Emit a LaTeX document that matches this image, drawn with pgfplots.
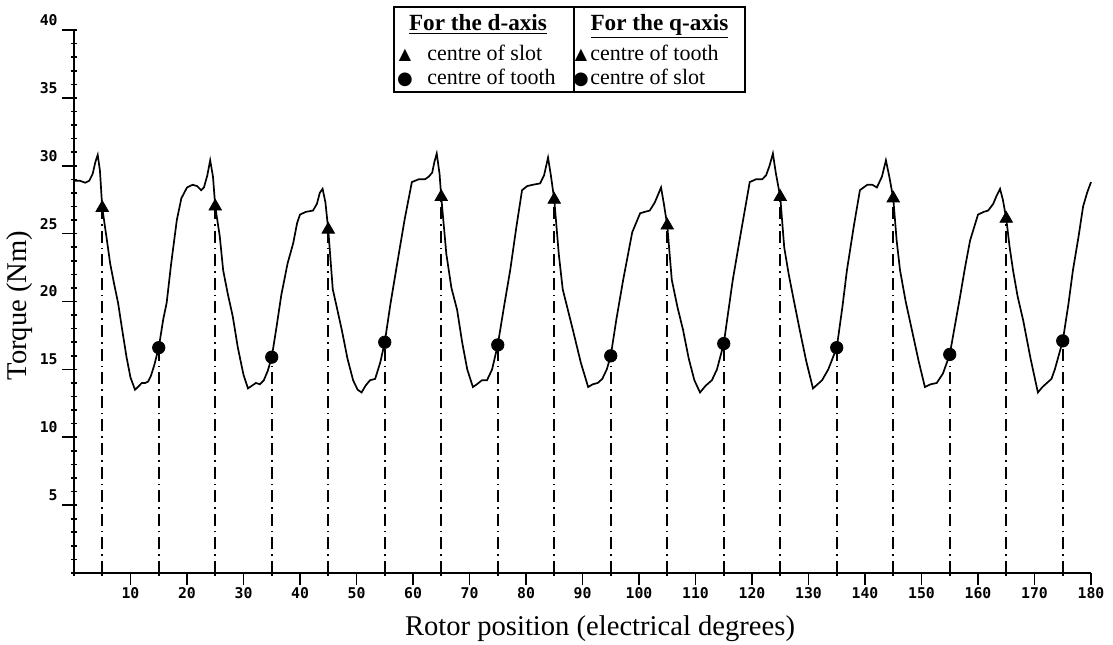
\documentclass[border=0pt]{standalone}
\usepackage{pgfplots}
\pgfplotsset{compat=1.18}
\usepackage{fontspec}
\setmainfont{Liberation Serif}
\newfontfamily\tickfont{DejaVu Sans Mono}
\newfontfamily\symfont{DejaVu Sans}

\pgfplotstableread{
x y
0 28.9
1 28.9
2 28.75
2.7 28.9
3.3 29.4
3.8 30.3
4.2 30.8
4.6 29.6
5 26.9
5.8 24.6
6.4 22.8
7.1 21.3
7.8 19.9
8.5 18.0
9.3 15.9
10 14.4
10.8 13.5
11.3 13.7
12 14.0
12.6 14.0
13.1 14.1
13.6 14.5
14.2 15.3
15 16.6
15.8 18.7
16.4 19.9
17.2 22.8
18.2 26.0
19.0 27.6
20 28.4
21 28.6
21.8 28.5
22.5 28.2
23 28.4
23.6 29.3
24.1 30.4
24.6 29.2
25 27.0
25.8 24.8
26.4 22.3
27.2 20.6
28.1 18.9
29 16.6
30 14.6
30.8 13.6
31.5 13.8
32.2 14.0
32.9 13.9
33.6 14.2
34.3 14.9
35 15.9
35.8 18.0
36.7 20.5
37.8 22.8
38.8 24.3
39.5 25.8
40 26.4
41 26.6
42.3 26.7
43 27.2
43.5 28.0
44 28.3
44.5 27.3
45 25.3
45.8 20.9
46.5 19.6
47.4 17.9
48.4 15.8
49.4 14.2
50.2 13.5
50.9 13.3
51.6 13.8
52.4 14.2
53.3 14.3
54.2 15.5
55 17.0
56 19.8
57.2 22.8
58.5 26.0
59.8 28.8
61 29.0
62.1 29.0
62.8 29.2
63.4 29.5
63.8 30.3
64.2 30.9
64.7 29.4
65 27.7
65.9 23.5
66.8 21.0
67.8 19.4
68.7 17.0
69.6 15.0
70.6 13.7
71.3 13.9
72.2 14.2
73.1 14.2
74 15.0
75 16.8
76.1 19.6
77.2 22.3
78.3 25.5
79.3 28.2
80.2 28.5
81.2 28.6
82.5 28.7
83.2 29.3
83.9 30.6
84.4 29.3
85 27.5
85.8 23.5
86.5 20.9
87.4 19.4
88.3 17.9
89.7 15.5
91 13.7
91.8 13.9
92.7 14.0
93.5 14.3
94.3 15.0
95 16.0
96 18.7
97.2 21.6
98.8 25.1
100.2 26.5
101 26.6
101.9 26.7
102.8 27.3
103.4 27.9
103.9 28.4
104.4 27.2
105 25.6
105.8 21.6
106.8 19.6
107.8 17.9
108.8 15.8
109.8 14.2
110.8 13.3
111.8 13.8
112.9 14.2
113.8 15.0
115 16.9
116.6 21.6
118 25.0
119.6 28.8
120.7 29.0
121.8 29.0
122.5 29.3
123.1 30.0
123.7 30.9
124.2 29.5
125 27.7
125.7 24.0
126.5 22.0
127.3 20.3
128.4 18.0
129.6 15.6
130.8 13.6
131.6 13.9
132.4 14.2
133.5 15.0
135 16.6
136 19.6
136.8 22.3
138 25.5
139.1 28.2
140.4 28.6
141.3 28.6
142.1 28.4
143 29.2
143.7 30.4
144.3 29.2
145 27.6
145.6 24.5
146.2 22.3
147.2 20.0
148.3 17.9
149.5 15.6
150.6 13.7
151.6 13.9
152.7 14.0
153.8 14.7
155 16.1
155.9 18.2
156.8 20.3
157.7 22.5
158.6 24.5
160 26.4
161 26.6
161.8 26.7
162.7 27.2
163.3 27.8
163.9 28.3
164.4 27.5
165 26.1
165.6 24.0
166.2 22.3
167 20.4
168 18.6
169.3 15.8
170.6 13.3
171.4 13.7
172.2 14.0
173 14.3
173.6 15.0
175 17.1
176 19.8
176.8 22.3
177.8 24.8
178.6 27.0
179.3 28.0
180 28.8
}\torque

\pgfplotstableread{
x y
5 26.9
25 27.0
45 25.3
65 27.7
85 27.5
105 25.6
125 27.7
145 27.6
165 26.1
}\tri

\pgfplotstableread{
x y
15 16.6
35 15.9
55 17.0
75 16.8
95 16.0
115 16.9
135 16.6
155 16.1
175 17.1
}\circ

\begin{document}
\begin{tikzpicture}
\begin{axis}[
  scale only axis, width=508.5pt, height=271.5pt,
  xmin=0, xmax=180, ymin=0, ymax=40,
  axis lines*=left,
  axis line style={line width=1pt},
  xtick={10,20,...,180},
  minor xtick={0,5,15,25,35,45,55,65,75,85,95,105,115,125,135,145,155,165,175},
  ytick={5,10,...,40},
  minor ytick={0,1,...,40},
  tick align=outside,
  major tick length=6pt, minor tick length=3pt,
  minor x tick style={yshift=1.5pt},
  minor y tick style={xshift=1.5pt},
  every tick/.style={black, line width=0.8pt},
  /pgf/number format/assume math mode=true,
  tick label style={font=\tickfont\bfseries\fontsize{7.4}{8}\selectfont},
  xticklabel style={inner sep=0pt, anchor=north, yshift=-1pt},
  yticklabel style={inner sep=0pt, anchor=south east, xshift=-2pt, yshift=2pt},
  xlabel={Rotor position (electrical degrees)},
  ylabel={Torque (Nm)},
  label style={font=\fontsize{14.3}{16}\selectfont},
  xlabel style={at={(axis description cs:0.5,0)}, anchor=base, yshift=-31pt, xshift=8.75pt},
  ylabel style={at={(axis description cs:0,0.5)}, anchor=base, yshift=23.5pt, xshift=-2pt},
  clip=false,
]
\addplot[ycomb, black, line width=0.9pt, dash pattern=on 6pt off 2.5pt on 0.8pt off 2.5pt] table[x=x,y=y] {\tri};
\addplot[ycomb, black, line width=0.9pt, dash pattern=on 6pt off 2.5pt on 0.8pt off 2.5pt] table[x=x,y=y] {\circ};
\addplot[black, line width=0.85pt, mark=none] table[x=x,y=y] {\torque};
\addplot[only marks, mark=triangle*, mark size=3.6pt, black] table[x=x,y=y] {\tri};
\addplot[only marks, mark=*, mark size=3.1pt, black] table[x=x,y=y] {\circ};
\end{axis}
% legend box
\draw[line width=0.8pt] (160pt,240.5pt) rectangle (335.5pt,283pt);
\draw[line width=0.8pt] (250pt,240.5pt) -- (250pt,283pt);
\begin{scope}[every node/.style={inner sep=0pt, font=\fontsize{11}{13}\selectfont}]
\node[anchor=base, font=\fontsize{11.6}{13}\selectfont] at (202pt,271.5pt) {\underline{\textbf{For the d-axis}}};
\node[anchor=base, font=\fontsize{11.6}{13}\selectfont] at (292.75pt,271.5pt) {\underline{\textbf{For the q-axis}}};
\node[anchor=base west] at (176.5pt,256.5pt) {centre of slot};
\node[anchor=base west] at (176.5pt,244pt) {centre of tooth};
\node[anchor=base west] at (258pt,256.5pt) {centre of tooth};
\node[anchor=base west] at (258pt,244pt) {centre of slot};
\node[anchor=base, font=\symfont\fontsize{8}{8}\selectfont] at (165.5pt,257pt) {▲};
\node[anchor=base, font=\symfont\fontsize{9}{9}\selectfont] at (165.5pt,244pt) {●};
\node[anchor=base, font=\symfont\fontsize{8}{8}\selectfont] at (253.5pt,257pt) {▲};
\node[anchor=base, font=\symfont\fontsize{9}{9}\selectfont] at (253.5pt,244pt) {●};
\end{scope}
\pgfresetboundingbox
\path (-37pt,-35.5pt) rectangle (519.5pt,286.5pt);
\end{tikzpicture}
\end{document}
